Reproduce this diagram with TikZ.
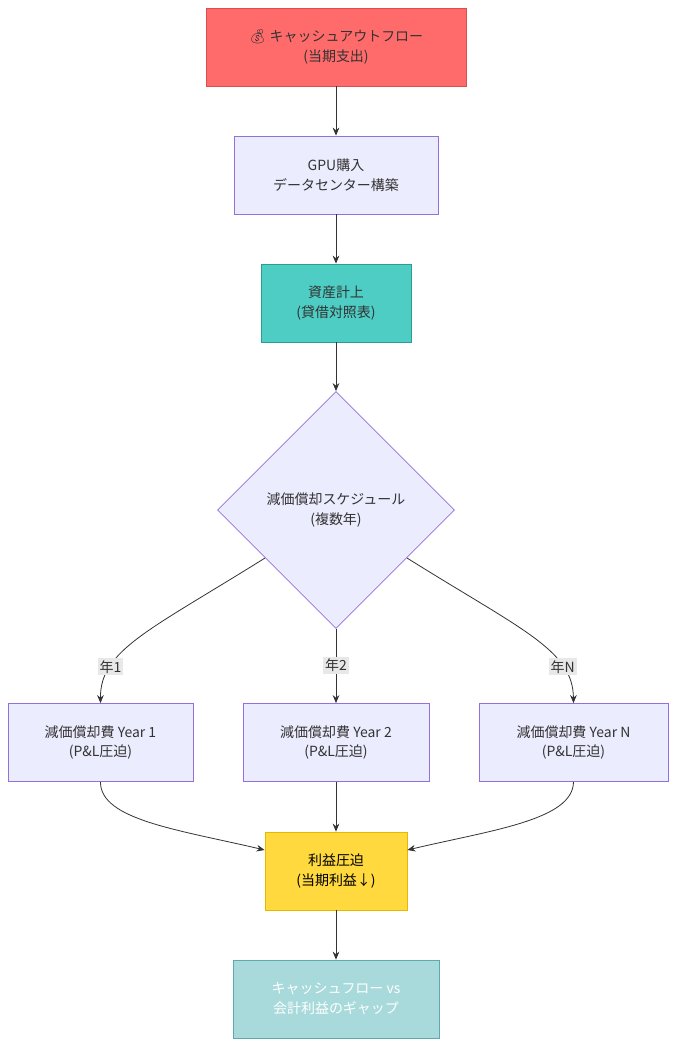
\documentclass[tikz,border=0pt]{standalone}
\usepackage{fontspec}
\setmainfont{Noto Sans CJK JP}
\newfontfamily\emoji{Noto Emoji}
\usetikzlibrary{arrows.meta, positioning, shapes.geometric}

\definecolor{cashred}{HTML}{FF6B6B}
\definecolor{cashredline}{HTML}{D94F4F}
\definecolor{lavender}{HTML}{ECECFF}
\definecolor{purpleline}{HTML}{9370DB}
\definecolor{teal}{HTML}{4ECDC4}
\definecolor{tealline}{HTML}{2A9D95}
\definecolor{gold}{HTML}{FFD93D}
\definecolor{goldline}{HTML}{E6B800}
\definecolor{pale}{HTML}{A8DADC}
\definecolor{paleline}{HTML}{5FA8AC}
\definecolor{edgetxt}{HTML}{333333}
\definecolor{lblbg}{HTML}{E8E8E8}

\tikzset{
  flowbox/.style={draw=purpleline, fill=lavender, minimum height=78*0.0264cm,
    align=center, font=\fontsize{10.5}{15}\selectfont, text=edgetxt, line width=0.6pt},
  flowline/.style={draw=edgetxt, line width=0.6pt, -{Stealth[length=6pt,width=5pt]}},
  yearlbl/.style={fill=lblbg, inner sep=1.5pt, font=\fontsize{10.5}{13}\selectfont, text=edgetxt}
}

\begin{document}
\begin{tikzpicture}[x=0.0264cm, y=-0.0264cm]
  \useasboundingbox (0,0) rectangle (676,1046);

  % Nodes
  \node[flowbox, fill=cashred, draw=cashredline, minimum width=260*0.0264cm] (out) at (336,47)
    {{\emoji 💰} キャッシュアウトフロー\\(当期支出)};
  \node[flowbox, minimum width=204*0.0264cm] (gpu) at (336,175) {GPU購入\\データセンター構築};
  \node[flowbox, fill=teal, draw=tealline, minimum width=150*0.0264cm] (asset) at (336,303)
    {資産計上\\(貸借対照表)};
  \node[flowbox, diamond, minimum width=237*0.0264cm, minimum height=237*0.0264cm, inner sep=0pt]
    (sched) at (336,510) {減価償却スケジュール\\(複数年)};
  \node[flowbox, minimum width=185*0.0264cm] (y1) at (100.5,742.5) {減価償却費 Year 1\\(P\&L圧迫)};
  \node[flowbox, minimum width=186*0.0264cm] (y2) at (336,742.5) {減価償却費 Year 2\\(P\&L圧迫)};
  \node[flowbox, minimum width=189*0.0264cm] (yn) at (573.5,742.5) {減価償却費 Year N\\(P\&L圧迫)};
  \node[flowbox, fill=gold, draw=goldline, minimum width=142*0.0264cm, text=black] (profit) at (336,871)
    {利益圧迫\\(当期利益↓)};
  \node[flowbox, fill=pale, draw=paleline, minimum width=206*0.0264cm, text=white] (gap) at (336,999)
    {キャッシュフロー vs\\会計利益のギャップ};

  % Edges
  \draw[flowline] (out) -- (gpu);
  \draw[flowline] (gpu) -- (asset);
  \draw[flowline] (asset) -- (sched);
  \draw[flowline] (265,558) .. controls (150,630) and (100,650) .. (y1.north)
    node[pos=0.74, yearlbl] {年1};
  \draw[flowline] (sched) -- (y2) node[pos=0.49, yearlbl] {年2};
  \draw[flowline] (407,558) .. controls (522,630) and (573,650) .. (yn.north)
    node[pos=0.74, yearlbl] {年N};
  \draw[flowline] (y1.south) .. controls (100,820) and (180,830) .. (profit.west |- 0,850);
  \draw[flowline] (y2) -- (profit);
  \draw[flowline] (yn.south) .. controls (573,820) and (492,830) .. (profit.east |- 0,850);
  \draw[flowline] (profit) -- (gap);
\end{tikzpicture}
\end{document}
